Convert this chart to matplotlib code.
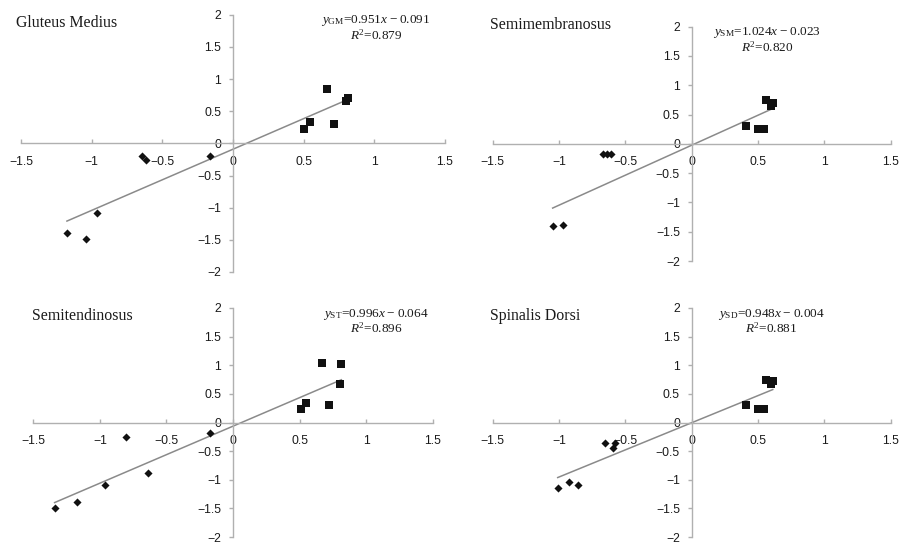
import matplotlib
matplotlib.use("Agg")
import matplotlib.pyplot as plt
import numpy as np

plt.rcParams['font.family'] = ['Liberation Sans', 'DejaVu Sans']
plt.rcParams['mathtext.fontset'] = 'custom'
plt.rcParams['mathtext.rm'] = 'Liberation Serif'
plt.rcParams['mathtext.it'] = 'Liberation Serif:italic'
plt.rcParams['axes.unicode_minus'] = True

W, H = 899, 546

# ---- data ----
titles = ["Gluteus Medius", "Semimembranosus", "Semitendinosus", "Spinalis Dorsi"]
subs = ["GM", "SM", "ST", "SD"]
slopes = [0.951, 1.024, 0.996, 0.948]
intercepts = [-0.091, -0.023, -0.064, -0.004]
r2 = ["0.879", "0.820", "0.896", "0.881"]

gm_dx = [-0.644, -0.613, -0.160, -0.962, -1.175, -1.042]
gm_dy = [-0.19, -0.26, -0.195, -1.09, -1.39, -1.49]
gm_sx = [0.665, 0.547, 0.502, 0.715, 0.797, 0.814]
gm_sy = [0.84, 0.33, 0.23, 0.30, 0.66, 0.70]

sm_dx = [-1.048, -0.972, -0.666, -0.641, -0.611]
sm_dy = [-1.41, -1.39, -0.18, -0.18, -0.18]
sm_sx = [0.410, 0.497, 0.543, 0.560, 0.600, 0.611]
sm_sy = [0.30, 0.245, 0.245, 0.745, 0.65, 0.70]

st_dx = [-1.340, -1.172, -0.962, -0.639, -0.804, -0.170]
st_dy = [-1.49, -1.386, -1.09, -0.88, -0.25, -0.19]
st_sx = [0.669, 0.814, 0.801, 0.551, 0.508, 0.719]
st_sy = [1.047, 1.018, 0.668, 0.34, 0.24, 0.30]

sd_dx = [-1.010, -0.927, -0.854, -0.653, -0.578, -0.595]
sd_dy = [-1.152, -1.038, -1.089, -0.363, -0.352, -0.454]
sd_sx = [0.410, 0.503, 0.543, 0.560, 0.598, 0.611]
sd_sy = [0.30, 0.244, 0.244, 0.749, 0.68, 0.72]

diam_x = [gm_dx, sm_dx, st_dx, sd_dx]
diam_y = [gm_dy, sm_dy, st_dy, sd_dy]
sq_x = [gm_sx, sm_sx, st_sx, sd_sx]
sq_y = [gm_sy, sm_sy, st_sy, sd_sy]

xticks = [-1.5, -1, -0.5, 0, 0.5, 1, 1.5]
yticks = [-2, -1.5, -1, -0.5, 0, 0.5, 1, 1.5, 2]

def fmt(v):
    s = ('%g' % v)
    return s.replace('-', '\u2212')

# axes boxes in pixels: (left, right, top, bottom)
boxes = [(21, 445, 14.7, 272), (492.7, 890.7, 26.7, 261),
         (33.3, 432.7, 308, 537), (492.7, 890.7, 308, 537)]
title_pos = [(16, 23), (490, 25), (32, 316), (490, 316)]
eq_pos = [(376, 21, 35), (767, 33, 47), (376, 314, 328), (771, 314, 328)]

fig = plt.figure(figsize=(W / 100, H / 100), dpi=100)
axcol = '#b0b0b0'
for i in range(4):
    l, r, t, b = boxes[i]
    ax = fig.add_axes([l / W, 1 - b / H, (r - l) / W, (b - t) / H])
    ax.set_xlim(-1.5, 1.5)
    ax.set_ylim(-2, 2)
    ax.patch.set_alpha(0)
    for s in ['top', 'right']:
        ax.spines[s].set_visible(False)
    for s in ['left', 'bottom']:
        ax.spines[s].set_position(('data', 0))
        ax.spines[s].set_color(axcol)
        ax.spines[s].set_linewidth(1.0)
    ax.set_xticks(xticks)
    ax.set_yticks(yticks)
    ax.set_xticklabels([fmt(v) for v in xticks])
    ax.set_yticklabels([fmt(v) for v in yticks])
    ax.tick_params(axis='both', colors=axcol, labelcolor='#1a1a1a',
                   labelsize=8.8, width=1.0)
    ax.tick_params(axis='y', direction='out', length=3, pad=5.5)
    ax.tick_params(axis='x', direction='in', length=3, pad=9)
    dx = np.array(diam_x[i]); sx = np.array(sq_x[i])
    allx = np.concatenate([dx, sx])
    lx = np.array([allx.min(), allx.max()])
    ax.plot(lx, slopes[i] * lx + intercepts[i], color='#8a8a8a', lw=1.1, zorder=2)
    ax.scatter(dx, diam_y[i], marker='D', s=17, color='#111111', zorder=3, linewidths=0)
    ax.scatter(sx, sq_y[i], marker='s', s=34, color='#111111', zorder=3, linewidths=0)

    tx, ty = title_pos[i]
    fig.text(tx / W, 1 - ty / H, titles[i], family='Liberation Serif', fontsize=11.4,
             ha='left', va='center', color='#1a1a1a')
    ex, ey1, ey2 = eq_pos[i]
    sign = '\u2212' if intercepts[i] < 0 else '+'
    eq1 = (r'$y_{\mathrm{%s}}$' % subs[i]) + '=%.3f' % slopes[i] + r'$x$' + \
          '\u2009%s\u2009%.3f' % (sign, abs(intercepts[i]))
    eq2 = r'$R^{2}$' + '=' + r2[i]
    fig.text(ex / W, 1 - ey1 / H, eq1, family='Liberation Serif', fontsize=9.5,
             ha='center', va='center', color='#1a1a1a')
    fig.text(ex / W, 1 - ey2 / H, eq2, family='Liberation Serif', fontsize=9.5,
             ha='center', va='center', color='#1a1a1a')

fig.savefig('out.png', dpi=100)
